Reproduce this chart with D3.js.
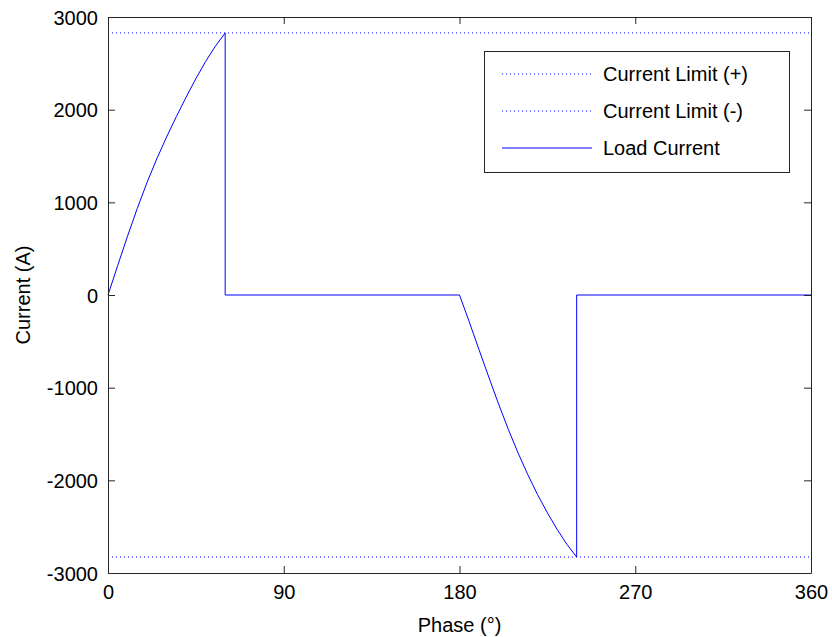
<!DOCTYPE html>
<html>
<head>
<meta charset="utf-8">
<script src="https://cdn.jsdelivr.net/npm/d3@7"></script>
<style>
  html, body { margin: 0; padding: 0; background: #fff; }
  svg { display: block; font-family: "Liberation Sans", Arial, sans-serif; }
</style>
</head>
<body>
<svg id="chart" width="832" height="637"></svg>
<script>
// Load current over one cycle (phase in degrees, current in A)
const phase = [0, 5, 10, 15, 20, 25, 30, 35, 40, 45, 50, 55, 60, 60,
               180, 185, 190, 195, 200, 205, 210, 215, 220, 225, 230, 235, 240, 240, 360];
const loadCurrent = [0, 320, 635, 935, 1215, 1470, 1705, 1925, 2135, 2335, 2520, 2685, 2828, 0,
                     0, -290, -590, -885, -1175, -1450, -1705, -1940, -2155, -2350, -2530, -2690, -2828, 0, 0];

// Current limits
const limitPos = 2828;
const limitNeg = -2828;

// Axis ticks
const xTicks = [0, 90, 180, 270, 360];
const yTicks = [-3000, -2000, -1000, 0, 1000, 2000, 3000];

const legendLabels = ["Current Limit (+)", "Current Limit (-)", "Load Current"];

const svg = d3.select("#chart");
const plotLeft = 108, plotRight = 811, plotTop = 17, plotBottom = 573;

const x = d3.scaleLinear().domain([0, 360]).range([plotLeft, plotRight]);
const y = d3.scaleLinear().domain([-3000, 3000]).range([plotBottom, plotTop]);

const blue = "#0000ff";
const axisColor = "#262626";
const fontSize = 20;
const plain = d => String(d);

// Limit lines
[limitPos, limitNeg].forEach(v => {
  svg.append("line")
    .attr("x1", x(0)).attr("x2", x(360))
    .attr("y1", y(v)).attr("y2", y(v))
    .attr("stroke", blue).attr("stroke-width", 1)
    .attr("stroke-dasharray", "1,3");
});

// Load current trace
const pts = phase.map((p, i) => [p, loadCurrent[i]]);
svg.append("path")
  .datum(pts)
  .attr("fill", "none")
  .attr("stroke", blue)
  .attr("stroke-width", 1)
  .attr("d", d3.line().x(d => x(d[0])).y(d => y(d[1])));

// Axes: ticks pointing inward on all four sides
const tickLen = 7;
const axBottom = svg.append("g").attr("transform", `translate(0,${plotBottom})`)
  .call(d3.axisBottom(x).tickValues(xTicks).tickSizeInner(-tickLen).tickSizeOuter(0)
    .tickPadding(12).tickFormat(plain));
const axTop = svg.append("g").attr("transform", `translate(0,${plotTop})`)
  .call(d3.axisTop(x).tickValues(xTicks).tickSizeInner(-tickLen).tickSizeOuter(0).tickFormat(""));
const axLeft = svg.append("g").attr("transform", `translate(${plotLeft},0)`)
  .call(d3.axisLeft(y).tickValues(yTicks).tickSizeInner(-tickLen).tickSizeOuter(0)
    .tickPadding(10).tickFormat(plain));
const axRight = svg.append("g").attr("transform", `translate(${plotRight},0)`)
  .call(d3.axisRight(y).tickValues(yTicks).tickSizeInner(-tickLen).tickSizeOuter(0).tickFormat(""));

[axBottom, axTop, axLeft, axRight].forEach(g => {
  g.select(".domain").attr("stroke", axisColor);
  g.selectAll(".tick line").attr("stroke", axisColor);
  g.selectAll("text").attr("font-size", fontSize).attr("fill", "#000")
    .attr("font-family", "'Liberation Sans', Arial, sans-serif");
});
axLeft.selectAll("text").attr("dy", "0.36em");
axBottom.selectAll("text").attr("dy", "0.72em");

// Axis labels
svg.append("text")
  .attr("x", (plotLeft + plotRight) / 2).attr("y", 632)
  .attr("text-anchor", "middle").attr("font-size", fontSize)
  .text("Phase (°)");
svg.append("text")
  .attr("transform", `translate(30,${(plotTop + plotBottom) / 2}) rotate(-90)`)
  .attr("text-anchor", "middle").attr("font-size", fontSize)
  .text("Current (A)");

// Legend
const lg = svg.append("g");
lg.append("rect").attr("x", 484.5).attr("y", 51.5).attr("width", 305).attr("height", 121)
  .attr("fill", "#fff").attr("stroke", axisColor);
legendLabels.forEach((lab, i) => {
  const cy = 74 + i * 37;
  lg.append("line")
    .attr("x1", 502).attr("x2", 592).attr("y1", cy).attr("y2", cy)
    .attr("stroke", blue).attr("stroke-width", 1)
    .attr("stroke-dasharray", i < 2 ? "1,3" : null);
  lg.append("text")
    .attr("x", 603).attr("y", cy).attr("dy", "0.36em")
    .attr("font-size", fontSize).text(lab);
});
</script>
</body>
</html>
